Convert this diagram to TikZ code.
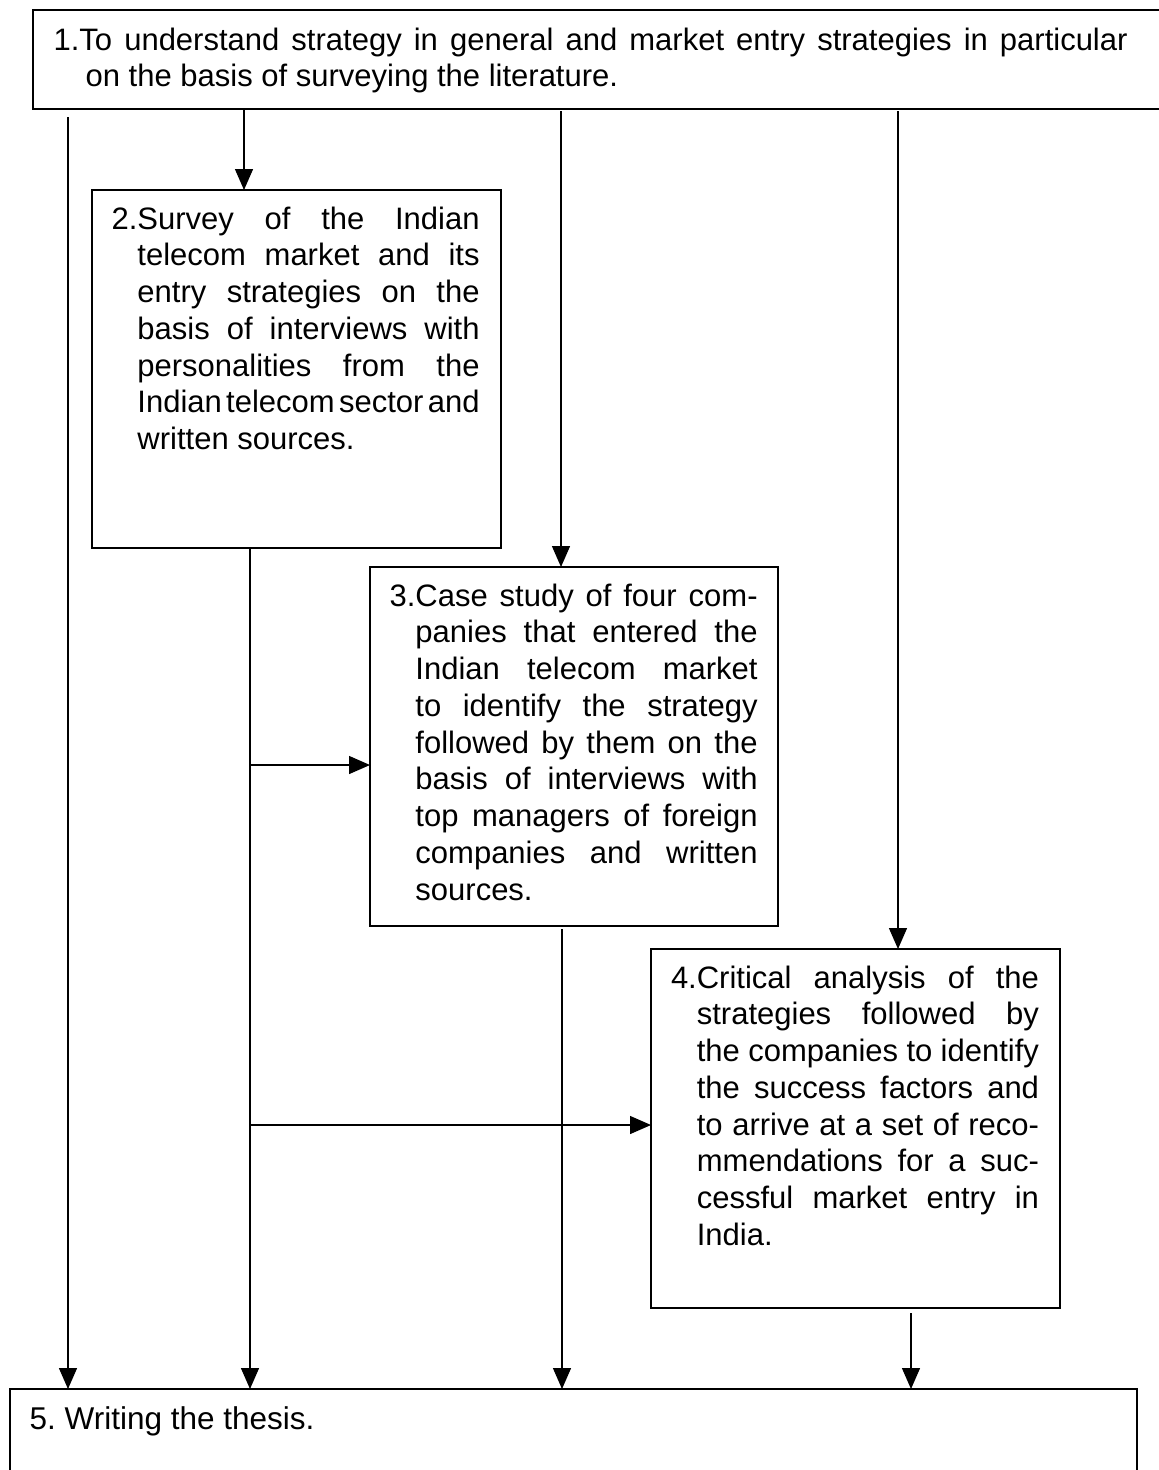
\documentclass[tikz,border=0pt]{standalone}
\usepackage{fontspec}
\setmainfont{Liberation Sans}
\usetikzlibrary{arrows.meta}

\tikzset{
  box/.style={draw, line width=2pt, anchor=north west, inner sep=0pt, outer sep=0pt},
  txt/.style={anchor=north west, inner sep=0pt, outer sep=0pt, text width=368pt, align=justify,
              font=\fontsize{31}{36.75}\selectfont\frenchspacing},
  arr/.style={line width=1.4pt, -{Triangle[length=21pt,width=18pt]}},
}
% numbered, justified paragraph: the lines after the first hang behind the number
% (or by the optional amount), no automatic hyphenation
\newcommand\numpara[2][]{\leftskip=0pt \rightskip=0pt \parfillskip=0pt plus 1fil
  \spaceskip=0.278em plus 0.5em minus 0.2em
  \setbox0=\hbox{#2}%
  \if\relax\detokenize{#1}\relax\hangindent=\wd0 \else\hangindent=#1\fi
  \hangafter=1 \hyphenpenalty=10000 \exhyphenpenalty=10000 \strut #2}

\begin{document}
\begin{tikzpicture}[x=1pt, y=-1pt]
  \useasboundingbox (0,0) rectangle (1159,1470);
  \fill[white] (0,0) rectangle (1159,1470);
  \clip (0,0) rectangle (1159,1470);

  % boxes
  \node[box, minimum width=1180pt, minimum height=99pt] (b1) at (33,10) {};
  \node[box, minimum width=409pt, minimum height=358pt] (b2) at (92,190) {};
  \node[box, minimum width=408pt, minimum height=359pt] (b3) at (370,567) {};
  \node[box, minimum width=409pt, minimum height=359pt] (b4) at (651,949) {};
  \node[box, minimum width=1127pt, minimum height=200pt] (b5) at (10,1389) {};

  % texts
  \node[txt, text width=1074pt] (t1) at ([xshift=20.6pt, yshift=-14.3pt]b1.north west)
    {\numpara[32pt]{1.}To understand strategy in general and market entry strategies in particular\linebreak
     on the basis of surveying the literature.\par};
  \node[txt] (t2) at ([xshift=19.6pt, yshift=-13.3pt]b2.north west)
    {\numpara{2.}Survey of the Indian\linebreak
     telecom market and its\linebreak
     entry strategies on the\linebreak
     basis of interviews with\linebreak
     personalities from the\linebreak
     Indian telecom sector and\linebreak
     written sources.\par};
  \node[txt] (t3) at ([xshift=19.6pt, yshift=-13.3pt]b3.north west)
    {\numpara{3.}Case study of four com-\linebreak
     panies that entered the\linebreak
     Indian telecom market\linebreak
     to identify the strategy\linebreak
     followed by them on the\linebreak
     basis of interviews with\linebreak
     top managers of foreign\linebreak
     companies and written\linebreak
     sources.\par};
  \node[txt] (t4) at ([xshift=20pt, yshift=-13.3pt]b4.north west)
    {\numpara{4.}Critical analysis of the\linebreak
     strategies followed by\linebreak
     the companies to identify\linebreak
     the success factors and\linebreak
     to arrive at a set of reco-\linebreak
     mmendations for a suc-\linebreak
     cessful market entry in\linebreak
     India.\par};
  \node[txt, text width=600pt, font=\fontsize{31.5}{36.75}\selectfont\frenchspacing] (t5)
    at ([xshift=19.6pt, yshift=-14.3pt]b5.north west)
    {\strut 5. Writing the thesis.\par};

  % columns and branch points of the connectors
  \coordinate (xA) at (68,0);
  \coordinate (xB) at (244,0);
  \coordinate (xC) at (561,0);
  \coordinate (xD) at (898,0);
  \coordinate (xE) at (250,0);
  \coordinate (xF) at (562,0);
  \coordinate (xG) at (911,0);
  \coordinate (h3) at (250,765);
  \coordinate (h4) at (250,1125);

  % connectors
  \draw[arr] ([yshift=-8pt]xA |- b1.south) -- (xA |- b5.north);
  \draw[arr] (xB |- b1.south) -- (xB |- b2.north);
  \draw[arr] ([yshift=-2pt]xC |- b1.south) -- (xC |- b3.north);
  \draw[arr] ([yshift=-2pt]xD |- b1.south) -- (xD |- b4.north);
  \draw[arr] (xE |- b2.south) -- (xE |- b5.north);
  \draw[arr] (h3) -- (h3 -| b3.west);
  \draw[arr] (h4) -- (h4 -| b4.west);
  \draw[arr] ([yshift=-3pt]xF |- b3.south) -- (xF |- b5.north);
  \draw[arr] ([yshift=-5pt]xG |- b4.south) -- (xG |- b5.north);
\end{tikzpicture}
\end{document}
